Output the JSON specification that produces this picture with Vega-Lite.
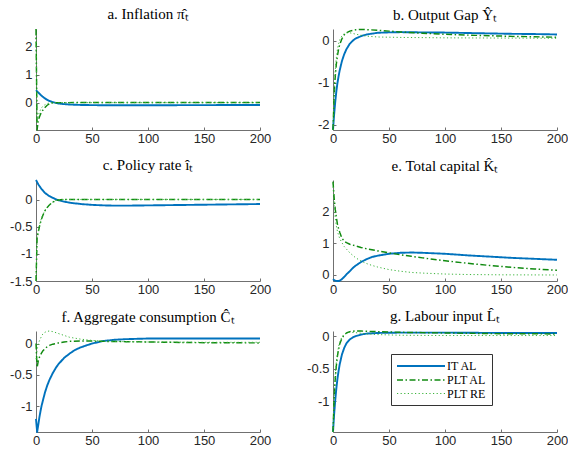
{
  "$schema": "https://vega.github.io/schema/vega-lite/v6.json",
  "padding": {"top": 7, "left": 0, "right": 0, "bottom": 0},
  "background": "white",
  "config": {
    "view": {"stroke": null},
    "axis": {"grid": false, "domainColor": "#707070", "tickColor": "#707070", "tickSize": -3, "labelFont": "Liberation Sans", "labelFontSize": 13, "labelColor": "#262626", "title": null, "labelFlush": false},
    "axisX": {"labelPadding": 5, "minExtent": 18, "maxExtent": 18},
    "axisY": {"labelPadding": 7, "minExtent": 36, "maxExtent": 36, "labelExpr": "'' + datum.value"},
    "title": {"font": "Liberation Serif", "fontSize": 15, "fontWeight": "normal", "offset": 6, "anchor": "middle", "color": "black"},
    "line": {"clip": true, "strokeJoin": "round"}
  },
  "datasets": {
    "a": [
      {"s": "IT AL", "t": 0, "v": 0.45}, {"s": "IT AL", "t": 1, "v": 0.41}, {"s": "IT AL", "t": 2, "v": 0.37}, {"s": "IT AL", "t": 3, "v": 0.33}, {"s": "IT AL", "t": 4, "v": 0.29}, {"s": "IT AL", "t": 5, "v": 0.25}, {"s": "IT AL", "t": 6, "v": 0.22}, {"s": "IT AL", "t": 8, "v": 0.16}, {"s": "IT AL", "t": 10, "v": 0.11}, {"s": "IT AL", "t": 12, "v": 0.07}, {"s": "IT AL", "t": 15, "v": 0.03}, {"s": "IT AL", "t": 18, "v": 0.0}, {"s": "IT AL", "t": 20, "v": -0.02}, {"s": "IT AL", "t": 25, "v": -0.04}, {"s": "IT AL", "t": 30, "v": -0.055}, {"s": "IT AL", "t": 40, "v": -0.07}, {"s": "IT AL", "t": 60, "v": -0.08}, {"s": "IT AL", "t": 100, "v": -0.08}, {"s": "IT AL", "t": 150, "v": -0.075}, {"s": "IT AL", "t": 200, "v": -0.07},
      {"s": "PLT AL", "t": 0, "v": 2.6}, {"s": "PLT AL", "t": 1, "v": -0.95}, {"s": "PLT AL", "t": 2, "v": -0.6}, {"s": "PLT AL", "t": 3, "v": -0.5}, {"s": "PLT AL", "t": 4, "v": -0.4}, {"s": "PLT AL", "t": 5, "v": -0.32}, {"s": "PLT AL", "t": 6, "v": -0.26}, {"s": "PLT AL", "t": 8, "v": -0.16}, {"s": "PLT AL", "t": 10, "v": -0.08}, {"s": "PLT AL", "t": 12, "v": -0.03}, {"s": "PLT AL", "t": 14, "v": 0.0}, {"s": "PLT AL", "t": 20, "v": 0.012}, {"s": "PLT AL", "t": 50, "v": 0.015}, {"s": "PLT AL", "t": 100, "v": 0.015}, {"s": "PLT AL", "t": 200, "v": 0.015},
      {"s": "PLT RE", "t": 0, "v": 2.4}, {"s": "PLT RE", "t": 1, "v": -0.7}, {"s": "PLT RE", "t": 2, "v": -0.45}, {"s": "PLT RE", "t": 3, "v": -0.33}, {"s": "PLT RE", "t": 4, "v": -0.24}, {"s": "PLT RE", "t": 5, "v": -0.17}, {"s": "PLT RE", "t": 6, "v": -0.12}, {"s": "PLT RE", "t": 8, "v": -0.06}, {"s": "PLT RE", "t": 10, "v": -0.02}, {"s": "PLT RE", "t": 12, "v": 0.0}, {"s": "PLT RE", "t": 20, "v": 0.01}, {"s": "PLT RE", "t": 100, "v": 0.01}, {"s": "PLT RE", "t": 200, "v": 0.01}
    ],
    "b": [
      {"s": "IT AL", "t": 0, "v": -2.12}, {"s": "IT AL", "t": 1, "v": -1.75}, {"s": "IT AL", "t": 2, "v": -1.45}, {"s": "IT AL", "t": 3, "v": -1.2}, {"s": "IT AL", "t": 4, "v": -1.0}, {"s": "IT AL", "t": 5, "v": -0.84}, {"s": "IT AL", "t": 6, "v": -0.7}, {"s": "IT AL", "t": 8, "v": -0.48}, {"s": "IT AL", "t": 10, "v": -0.32}, {"s": "IT AL", "t": 12, "v": -0.2}, {"s": "IT AL", "t": 15, "v": -0.07}, {"s": "IT AL", "t": 18, "v": 0.01}, {"s": "IT AL", "t": 20, "v": 0.05}, {"s": "IT AL", "t": 25, "v": 0.11}, {"s": "IT AL", "t": 30, "v": 0.15}, {"s": "IT AL", "t": 35, "v": 0.17}, {"s": "IT AL", "t": 40, "v": 0.19}, {"s": "IT AL", "t": 50, "v": 0.2}, {"s": "IT AL", "t": 60, "v": 0.205}, {"s": "IT AL", "t": 80, "v": 0.2}, {"s": "IT AL", "t": 100, "v": 0.195}, {"s": "IT AL", "t": 120, "v": 0.185}, {"s": "IT AL", "t": 140, "v": 0.175}, {"s": "IT AL", "t": 160, "v": 0.165}, {"s": "IT AL", "t": 180, "v": 0.16}, {"s": "IT AL", "t": 200, "v": 0.15},
      {"s": "PLT AL", "t": 0, "v": -2.12}, {"s": "PLT AL", "t": 1, "v": -1.3}, {"s": "PLT AL", "t": 2, "v": -0.85}, {"s": "PLT AL", "t": 3, "v": -0.55}, {"s": "PLT AL", "t": 4, "v": -0.35}, {"s": "PLT AL", "t": 5, "v": -0.2}, {"s": "PLT AL", "t": 6, "v": -0.09}, {"s": "PLT AL", "t": 8, "v": 0.05}, {"s": "PLT AL", "t": 10, "v": 0.14}, {"s": "PLT AL", "t": 12, "v": 0.19}, {"s": "PLT AL", "t": 15, "v": 0.23}, {"s": "PLT AL", "t": 20, "v": 0.26}, {"s": "PLT AL", "t": 25, "v": 0.27}, {"s": "PLT AL", "t": 30, "v": 0.265}, {"s": "PLT AL", "t": 40, "v": 0.25}, {"s": "PLT AL", "t": 50, "v": 0.23}, {"s": "PLT AL", "t": 60, "v": 0.21}, {"s": "PLT AL", "t": 80, "v": 0.18}, {"s": "PLT AL", "t": 100, "v": 0.155}, {"s": "PLT AL", "t": 120, "v": 0.135}, {"s": "PLT AL", "t": 140, "v": 0.12}, {"s": "PLT AL", "t": 160, "v": 0.105}, {"s": "PLT AL", "t": 180, "v": 0.095}, {"s": "PLT AL", "t": 200, "v": 0.085},
      {"s": "PLT RE", "t": 0, "v": -2.12}, {"s": "PLT RE", "t": 1, "v": -1.2}, {"s": "PLT RE", "t": 2, "v": -0.7}, {"s": "PLT RE", "t": 3, "v": -0.4}, {"s": "PLT RE", "t": 4, "v": -0.2}, {"s": "PLT RE", "t": 5, "v": -0.07}, {"s": "PLT RE", "t": 6, "v": 0.02}, {"s": "PLT RE", "t": 8, "v": 0.12}, {"s": "PLT RE", "t": 10, "v": 0.17}, {"s": "PLT RE", "t": 12, "v": 0.19}, {"s": "PLT RE", "t": 15, "v": 0.19}, {"s": "PLT RE", "t": 20, "v": 0.16}, {"s": "PLT RE", "t": 25, "v": 0.13}, {"s": "PLT RE", "t": 30, "v": 0.11}, {"s": "PLT RE", "t": 40, "v": 0.09}, {"s": "PLT RE", "t": 60, "v": 0.08}, {"s": "PLT RE", "t": 100, "v": 0.07}, {"s": "PLT RE", "t": 150, "v": 0.065}, {"s": "PLT RE", "t": 200, "v": 0.06}
    ],
    "c": [
      {"s": "IT AL", "t": 0, "v": 0.37}, {"s": "IT AL", "t": 1, "v": 0.33}, {"s": "IT AL", "t": 2, "v": 0.29}, {"s": "IT AL", "t": 3, "v": 0.26}, {"s": "IT AL", "t": 4, "v": 0.23}, {"s": "IT AL", "t": 5, "v": 0.2}, {"s": "IT AL", "t": 6, "v": 0.18}, {"s": "IT AL", "t": 8, "v": 0.13}, {"s": "IT AL", "t": 10, "v": 0.1}, {"s": "IT AL", "t": 12, "v": 0.07}, {"s": "IT AL", "t": 15, "v": 0.04}, {"s": "IT AL", "t": 18, "v": 0.01}, {"s": "IT AL", "t": 20, "v": -0.005}, {"s": "IT AL", "t": 25, "v": -0.03}, {"s": "IT AL", "t": 30, "v": -0.05}, {"s": "IT AL", "t": 40, "v": -0.075}, {"s": "IT AL", "t": 50, "v": -0.09}, {"s": "IT AL", "t": 60, "v": -0.1}, {"s": "IT AL", "t": 70, "v": -0.105}, {"s": "IT AL", "t": 80, "v": -0.105}, {"s": "IT AL", "t": 100, "v": -0.1}, {"s": "IT AL", "t": 120, "v": -0.095}, {"s": "IT AL", "t": 140, "v": -0.09}, {"s": "IT AL", "t": 160, "v": -0.085}, {"s": "IT AL", "t": 180, "v": -0.08}, {"s": "IT AL", "t": 200, "v": -0.075},
      {"s": "PLT AL", "t": 0, "v": -1.5}, {"s": "PLT AL", "t": 1, "v": -0.7}, {"s": "PLT AL", "t": 2, "v": -0.6}, {"s": "PLT AL", "t": 3, "v": -0.5}, {"s": "PLT AL", "t": 4, "v": -0.42}, {"s": "PLT AL", "t": 5, "v": -0.35}, {"s": "PLT AL", "t": 6, "v": -0.29}, {"s": "PLT AL", "t": 8, "v": -0.2}, {"s": "PLT AL", "t": 10, "v": -0.14}, {"s": "PLT AL", "t": 12, "v": -0.09}, {"s": "PLT AL", "t": 15, "v": -0.04}, {"s": "PLT AL", "t": 18, "v": -0.01}, {"s": "PLT AL", "t": 20, "v": 0.0}, {"s": "PLT AL", "t": 25, "v": 0.01}, {"s": "PLT AL", "t": 100, "v": 0.01}, {"s": "PLT AL", "t": 200, "v": 0.01},
      {"s": "PLT RE", "t": 0, "v": -1.5}, {"s": "PLT RE", "t": 1, "v": -0.68}, {"s": "PLT RE", "t": 2, "v": -0.58}, {"s": "PLT RE", "t": 3, "v": -0.48}, {"s": "PLT RE", "t": 4, "v": -0.4}, {"s": "PLT RE", "t": 5, "v": -0.33}, {"s": "PLT RE", "t": 6, "v": -0.28}, {"s": "PLT RE", "t": 8, "v": -0.19}, {"s": "PLT RE", "t": 10, "v": -0.13}, {"s": "PLT RE", "t": 12, "v": -0.085}, {"s": "PLT RE", "t": 15, "v": -0.035}, {"s": "PLT RE", "t": 18, "v": -0.005}, {"s": "PLT RE", "t": 20, "v": 0.005}, {"s": "PLT RE", "t": 25, "v": 0.01}, {"s": "PLT RE", "t": 100, "v": 0.01}, {"s": "PLT RE", "t": 200, "v": 0.01}
    ],
    "e": [
      {"s": "IT AL", "t": 0, "v": -0.13}, {"s": "IT AL", "t": 1, "v": -0.16}, {"s": "IT AL", "t": 2, "v": -0.18}, {"s": "IT AL", "t": 4, "v": -0.19}, {"s": "IT AL", "t": 5, "v": -0.19}, {"s": "IT AL", "t": 6, "v": -0.18}, {"s": "IT AL", "t": 8, "v": -0.13}, {"s": "IT AL", "t": 10, "v": -0.06}, {"s": "IT AL", "t": 12, "v": 0.02}, {"s": "IT AL", "t": 15, "v": 0.12}, {"s": "IT AL", "t": 18, "v": 0.23}, {"s": "IT AL", "t": 20, "v": 0.29}, {"s": "IT AL", "t": 25, "v": 0.41}, {"s": "IT AL", "t": 30, "v": 0.5}, {"s": "IT AL", "t": 35, "v": 0.57}, {"s": "IT AL", "t": 40, "v": 0.61}, {"s": "IT AL", "t": 50, "v": 0.67}, {"s": "IT AL", "t": 60, "v": 0.7}, {"s": "IT AL", "t": 70, "v": 0.71}, {"s": "IT AL", "t": 80, "v": 0.7}, {"s": "IT AL", "t": 100, "v": 0.67}, {"s": "IT AL", "t": 120, "v": 0.62}, {"s": "IT AL", "t": 140, "v": 0.58}, {"s": "IT AL", "t": 160, "v": 0.54}, {"s": "IT AL", "t": 180, "v": 0.51}, {"s": "IT AL", "t": 200, "v": 0.48},
      {"s": "PLT AL", "t": 0, "v": 2.95}, {"s": "PLT AL", "t": 1, "v": 2.45}, {"s": "PLT AL", "t": 2, "v": 2.08}, {"s": "PLT AL", "t": 3, "v": 1.82}, {"s": "PLT AL", "t": 4, "v": 1.6}, {"s": "PLT AL", "t": 5, "v": 1.46}, {"s": "PLT AL", "t": 6, "v": 1.35}, {"s": "PLT AL", "t": 8, "v": 1.16}, {"s": "PLT AL", "t": 10, "v": 1.07}, {"s": "PLT AL", "t": 12, "v": 1.02}, {"s": "PLT AL", "t": 15, "v": 0.97}, {"s": "PLT AL", "t": 20, "v": 0.92}, {"s": "PLT AL", "t": 25, "v": 0.87}, {"s": "PLT AL", "t": 30, "v": 0.83}, {"s": "PLT AL", "t": 40, "v": 0.76}, {"s": "PLT AL", "t": 50, "v": 0.7}, {"s": "PLT AL", "t": 60, "v": 0.64}, {"s": "PLT AL", "t": 70, "v": 0.59}, {"s": "PLT AL", "t": 80, "v": 0.54}, {"s": "PLT AL", "t": 100, "v": 0.45}, {"s": "PLT AL", "t": 120, "v": 0.37}, {"s": "PLT AL", "t": 140, "v": 0.3}, {"s": "PLT AL", "t": 160, "v": 0.24}, {"s": "PLT AL", "t": 180, "v": 0.19}, {"s": "PLT AL", "t": 200, "v": 0.15},
      {"s": "PLT RE", "t": 0, "v": 2.9}, {"s": "PLT RE", "t": 1, "v": 2.2}, {"s": "PLT RE", "t": 2, "v": 1.8}, {"s": "PLT RE", "t": 3, "v": 1.55}, {"s": "PLT RE", "t": 4, "v": 1.37}, {"s": "PLT RE", "t": 6, "v": 1.15}, {"s": "PLT RE", "t": 8, "v": 1.02}, {"s": "PLT RE", "t": 10, "v": 0.9}, {"s": "PLT RE", "t": 12, "v": 0.82}, {"s": "PLT RE", "t": 15, "v": 0.7}, {"s": "PLT RE", "t": 20, "v": 0.55}, {"s": "PLT RE", "t": 25, "v": 0.44}, {"s": "PLT RE", "t": 30, "v": 0.36}, {"s": "PLT RE", "t": 35, "v": 0.3}, {"s": "PLT RE", "t": 40, "v": 0.25}, {"s": "PLT RE", "t": 50, "v": 0.17}, {"s": "PLT RE", "t": 60, "v": 0.12}, {"s": "PLT RE", "t": 70, "v": 0.08}, {"s": "PLT RE", "t": 80, "v": 0.06}, {"s": "PLT RE", "t": 100, "v": 0.03}, {"s": "PLT RE", "t": 120, "v": 0.015}, {"s": "PLT RE", "t": 150, "v": 0.005}, {"s": "PLT RE", "t": 200, "v": 0.0}
    ],
    "f": [
      {"s": "IT AL", "t": 0, "v": -1.2}, {"s": "IT AL", "t": 1, "v": -1.41}, {"s": "IT AL", "t": 2, "v": -1.3}, {"s": "IT AL", "t": 3, "v": -1.18}, {"s": "IT AL", "t": 4, "v": -1.08}, {"s": "IT AL", "t": 5, "v": -0.99}, {"s": "IT AL", "t": 6, "v": -0.92}, {"s": "IT AL", "t": 8, "v": -0.78}, {"s": "IT AL", "t": 10, "v": -0.67}, {"s": "IT AL", "t": 12, "v": -0.58}, {"s": "IT AL", "t": 15, "v": -0.47}, {"s": "IT AL", "t": 18, "v": -0.38}, {"s": "IT AL", "t": 20, "v": -0.33}, {"s": "IT AL", "t": 25, "v": -0.23}, {"s": "IT AL", "t": 30, "v": -0.16}, {"s": "IT AL", "t": 35, "v": -0.1}, {"s": "IT AL", "t": 40, "v": -0.06}, {"s": "IT AL", "t": 50, "v": 0.0}, {"s": "IT AL", "t": 60, "v": 0.04}, {"s": "IT AL", "t": 70, "v": 0.06}, {"s": "IT AL", "t": 80, "v": 0.07}, {"s": "IT AL", "t": 100, "v": 0.08}, {"s": "IT AL", "t": 150, "v": 0.08}, {"s": "IT AL", "t": 200, "v": 0.08},
      {"s": "PLT AL", "t": 0, "v": 0.0}, {"s": "PLT AL", "t": 1, "v": -0.38}, {"s": "PLT AL", "t": 2, "v": -0.28}, {"s": "PLT AL", "t": 3, "v": -0.22}, {"s": "PLT AL", "t": 4, "v": -0.18}, {"s": "PLT AL", "t": 5, "v": -0.15}, {"s": "PLT AL", "t": 6, "v": -0.12}, {"s": "PLT AL", "t": 8, "v": -0.08}, {"s": "PLT AL", "t": 10, "v": -0.05}, {"s": "PLT AL", "t": 12, "v": -0.03}, {"s": "PLT AL", "t": 15, "v": -0.01}, {"s": "PLT AL", "t": 20, "v": 0.01}, {"s": "PLT AL", "t": 25, "v": 0.025}, {"s": "PLT AL", "t": 30, "v": 0.035}, {"s": "PLT AL", "t": 40, "v": 0.04}, {"s": "PLT AL", "t": 50, "v": 0.04}, {"s": "PLT AL", "t": 60, "v": 0.035}, {"s": "PLT AL", "t": 80, "v": 0.03}, {"s": "PLT AL", "t": 100, "v": 0.025}, {"s": "PLT AL", "t": 140, "v": 0.015}, {"s": "PLT AL", "t": 200, "v": 0.01},
      {"s": "PLT RE", "t": 0, "v": -0.25}, {"s": "PLT RE", "t": 1, "v": -0.1}, {"s": "PLT RE", "t": 2, "v": -0.01}, {"s": "PLT RE", "t": 3, "v": 0.04}, {"s": "PLT RE", "t": 4, "v": 0.08}, {"s": "PLT RE", "t": 5, "v": 0.12}, {"s": "PLT RE", "t": 6, "v": 0.15}, {"s": "PLT RE", "t": 8, "v": 0.18}, {"s": "PLT RE", "t": 10, "v": 0.195}, {"s": "PLT RE", "t": 12, "v": 0.2}, {"s": "PLT RE", "t": 15, "v": 0.19}, {"s": "PLT RE", "t": 20, "v": 0.16}, {"s": "PLT RE", "t": 25, "v": 0.13}, {"s": "PLT RE", "t": 30, "v": 0.1}, {"s": "PLT RE", "t": 35, "v": 0.085}, {"s": "PLT RE", "t": 40, "v": 0.07}, {"s": "PLT RE", "t": 50, "v": 0.05}, {"s": "PLT RE", "t": 60, "v": 0.04}, {"s": "PLT RE", "t": 80, "v": 0.03}, {"s": "PLT RE", "t": 100, "v": 0.025}, {"s": "PLT RE", "t": 150, "v": 0.02}, {"s": "PLT RE", "t": 200, "v": 0.02}
    ],
    "g": [
      {"s": "IT AL", "t": 0, "v": -1.47}, {"s": "IT AL", "t": 1, "v": -1.2}, {"s": "IT AL", "t": 2, "v": -0.98}, {"s": "IT AL", "t": 3, "v": -0.8}, {"s": "IT AL", "t": 4, "v": -0.65}, {"s": "IT AL", "t": 5, "v": -0.53}, {"s": "IT AL", "t": 6, "v": -0.43}, {"s": "IT AL", "t": 8, "v": -0.28}, {"s": "IT AL", "t": 10, "v": -0.18}, {"s": "IT AL", "t": 12, "v": -0.11}, {"s": "IT AL", "t": 15, "v": -0.05}, {"s": "IT AL", "t": 18, "v": -0.015}, {"s": "IT AL", "t": 20, "v": 0.0}, {"s": "IT AL", "t": 25, "v": 0.025}, {"s": "IT AL", "t": 30, "v": 0.04}, {"s": "IT AL", "t": 40, "v": 0.05}, {"s": "IT AL", "t": 60, "v": 0.055}, {"s": "IT AL", "t": 100, "v": 0.055}, {"s": "IT AL", "t": 150, "v": 0.05}, {"s": "IT AL", "t": 200, "v": 0.05},
      {"s": "PLT AL", "t": 0, "v": -1.47}, {"s": "PLT AL", "t": 1, "v": -0.95}, {"s": "PLT AL", "t": 2, "v": -0.65}, {"s": "PLT AL", "t": 3, "v": -0.45}, {"s": "PLT AL", "t": 4, "v": -0.3}, {"s": "PLT AL", "t": 5, "v": -0.2}, {"s": "PLT AL", "t": 6, "v": -0.12}, {"s": "PLT AL", "t": 8, "v": -0.03}, {"s": "PLT AL", "t": 10, "v": 0.02}, {"s": "PLT AL", "t": 12, "v": 0.05}, {"s": "PLT AL", "t": 15, "v": 0.07}, {"s": "PLT AL", "t": 20, "v": 0.08}, {"s": "PLT AL", "t": 25, "v": 0.08}, {"s": "PLT AL", "t": 30, "v": 0.075}, {"s": "PLT AL", "t": 40, "v": 0.07}, {"s": "PLT AL", "t": 60, "v": 0.06}, {"s": "PLT AL", "t": 80, "v": 0.055}, {"s": "PLT AL", "t": 100, "v": 0.05}, {"s": "PLT AL", "t": 140, "v": 0.04}, {"s": "PLT AL", "t": 200, "v": 0.035},
      {"s": "PLT RE", "t": 0, "v": -1.47}, {"s": "PLT RE", "t": 1, "v": -0.9}, {"s": "PLT RE", "t": 2, "v": -0.6}, {"s": "PLT RE", "t": 3, "v": -0.4}, {"s": "PLT RE", "t": 4, "v": -0.26}, {"s": "PLT RE", "t": 5, "v": -0.16}, {"s": "PLT RE", "t": 6, "v": -0.09}, {"s": "PLT RE", "t": 8, "v": -0.01}, {"s": "PLT RE", "t": 10, "v": 0.03}, {"s": "PLT RE", "t": 12, "v": 0.05}, {"s": "PLT RE", "t": 15, "v": 0.06}, {"s": "PLT RE", "t": 20, "v": 0.055}, {"s": "PLT RE", "t": 25, "v": 0.045}, {"s": "PLT RE", "t": 30, "v": 0.035}, {"s": "PLT RE", "t": 40, "v": 0.025}, {"s": "PLT RE", "t": 60, "v": 0.015}, {"s": "PLT RE", "t": 100, "v": 0.01}, {"s": "PLT RE", "t": 200, "v": 0.01}
    ]
  },
  "columns": 2,
  "spacing": {"row": 10, "column": 26},
  "concat": [
    {
      "title": {"text": "a. Inflation π̂ₜ", "font": "Liberation Serif", "fontSize": 15, "fontWeight": "normal"},
      "width": 224, "height": 101,
      "data": {"name": "a"},
      "mark": "line",
      "encoding": {
        "x": {"field": "t", "type": "quantitative", "scale": {"domain": [0, 200], "nice": false}, "axis": {"values": [0, 50, 100, 150, 200]}},
        "y": {"field": "v", "type": "quantitative", "scale": {"domain": [-0.95, 2.6], "nice": false, "zero": false}, "axis": {"values": [0, 1, 2]}},
        "color": {"field": "s", "type": "ordinal", "scale": {"domain": ["IT AL", "PLT AL", "PLT RE"], "range": ["#0072BD", "#108a10", "#3cb43c"]}, "legend": {"orient": "none", "legendX": 355, "legendY": 325, "title": null, "labelFont": "Liberation Serif", "labelFontSize": 12, "labelColor": "black", "symbolType": "M-1,0H7", "symbolSize": 144, "labelOffset": 37, "rowPadding": 1, "padding": 5, "strokeColor": "#333333", "fillColor": "white", "cornerRadius": 0}},
        "strokeDash": {"field": "s", "type": "ordinal", "scale": {"domain": ["IT AL", "PLT AL", "PLT RE"], "range": [[1, 0], [6, 2.5, 1.5, 2.5], [1.2, 2.4]]}},
        "strokeWidth": {"field": "s", "type": "ordinal", "scale": {"domain": ["IT AL", "PLT AL", "PLT RE"], "range": [1.9, 1, 1]}}
      }
    },
    {
      "title": {"text": "b. Output Gap Ŷₜ", "font": "Liberation Serif", "fontSize": 15, "fontWeight": "normal"},
      "width": 224, "height": 101,
      "data": {"name": "b"},
      "mark": "line",
      "encoding": {
        "x": {"field": "t", "type": "quantitative", "scale": {"domain": [0, 200], "nice": false}, "axis": {"values": [0, 50, 100, 150, 200]}},
        "y": {"field": "v", "type": "quantitative", "scale": {"domain": [-2.12, 0.28], "nice": false, "zero": false}, "axis": {"values": [-2, -1, 0]}},
        "color": {"field": "s", "type": "ordinal", "scale": {"domain": ["IT AL", "PLT AL", "PLT RE"], "range": ["#0072BD", "#108a10", "#3cb43c"]}},
        "strokeDash": {"field": "s", "type": "ordinal", "scale": {"domain": ["IT AL", "PLT AL", "PLT RE"], "range": [[1, 0], [6, 2.5, 1.5, 2.5], [1.2, 2.4]]}},
        "strokeWidth": {"field": "s", "type": "ordinal", "scale": {"domain": ["IT AL", "PLT AL", "PLT RE"], "range": [1.9, 1, 1]}}
      }
    },
    {
      "title": {"text": "c. Policy rate îₜ", "font": "Liberation Serif", "fontSize": 15, "fontWeight": "normal"},
      "width": 224, "height": 101,
      "data": {"name": "c"},
      "mark": "line",
      "encoding": {
        "x": {"field": "t", "type": "quantitative", "scale": {"domain": [0, 200], "nice": false}, "axis": {"values": [0, 50, 100, 150, 200]}},
        "y": {"field": "v", "type": "quantitative", "scale": {"domain": [-1.5, 0.37], "nice": false, "zero": false}, "axis": {"values": [-1.5, -1, -0.5, 0]}},
        "color": {"field": "s", "type": "ordinal", "scale": {"domain": ["IT AL", "PLT AL", "PLT RE"], "range": ["#0072BD", "#108a10", "#3cb43c"]}},
        "strokeDash": {"field": "s", "type": "ordinal", "scale": {"domain": ["IT AL", "PLT AL", "PLT RE"], "range": [[1, 0], [6, 2.5, 1.5, 2.5], [1.2, 2.4]]}},
        "strokeWidth": {"field": "s", "type": "ordinal", "scale": {"domain": ["IT AL", "PLT AL", "PLT RE"], "range": [1.9, 1, 1]}}
      }
    },
    {
      "title": {"text": "e. Total capital K̂ₜ", "font": "Liberation Serif", "fontSize": 15, "fontWeight": "normal"},
      "width": 224, "height": 101,
      "data": {"name": "e"},
      "mark": "line",
      "encoding": {
        "x": {"field": "t", "type": "quantitative", "scale": {"domain": [0, 200], "nice": false}, "axis": {"values": [0, 50, 100, 150, 200]}},
        "y": {"field": "v", "type": "quantitative", "scale": {"domain": [-0.19, 3.0], "nice": false, "zero": false}, "axis": {"values": [0, 1, 2]}},
        "color": {"field": "s", "type": "ordinal", "scale": {"domain": ["IT AL", "PLT AL", "PLT RE"], "range": ["#0072BD", "#108a10", "#3cb43c"]}},
        "strokeDash": {"field": "s", "type": "ordinal", "scale": {"domain": ["IT AL", "PLT AL", "PLT RE"], "range": [[1, 0], [6, 2.5, 1.5, 2.5], [1.2, 2.4]]}},
        "strokeWidth": {"field": "s", "type": "ordinal", "scale": {"domain": ["IT AL", "PLT AL", "PLT RE"], "range": [1.9, 1, 1]}}
      }
    },
    {
      "title": {"text": "f. Aggregate consumption Ĉₜ", "font": "Liberation Serif", "fontSize": 15, "fontWeight": "normal"},
      "width": 224, "height": 101,
      "data": {"name": "f"},
      "mark": "line",
      "encoding": {
        "x": {"field": "t", "type": "quantitative", "scale": {"domain": [0, 200], "nice": false}, "axis": {"values": [0, 50, 100, 150, 200]}},
        "y": {"field": "v", "type": "quantitative", "scale": {"domain": [-1.41, 0.2], "nice": false, "zero": false}, "axis": {"values": [-1, -0.5, 0]}},
        "color": {"field": "s", "type": "ordinal", "scale": {"domain": ["IT AL", "PLT AL", "PLT RE"], "range": ["#0072BD", "#108a10", "#3cb43c"]}},
        "strokeDash": {"field": "s", "type": "ordinal", "scale": {"domain": ["IT AL", "PLT AL", "PLT RE"], "range": [[1, 0], [6, 2.5, 1.5, 2.5], [1.2, 2.4]]}},
        "strokeWidth": {"field": "s", "type": "ordinal", "scale": {"domain": ["IT AL", "PLT AL", "PLT RE"], "range": [1.9, 1, 1]}}
      }
    },
    {
      "title": {"text": "g. Labour input L̂ₜ", "font": "Liberation Serif", "fontSize": 15, "fontWeight": "normal"},
      "width": 224, "height": 101,
      "data": {"name": "g"},
      "mark": "line",
      "encoding": {
        "x": {"field": "t", "type": "quantitative", "scale": {"domain": [0, 200], "nice": false}, "axis": {"values": [0, 50, 100, 150, 200]}},
        "y": {"field": "v", "type": "quantitative", "scale": {"domain": [-1.47, 0.08], "nice": false, "zero": false}, "axis": {"values": [-1, -0.5, 0]}},
        "color": {"field": "s", "type": "ordinal", "scale": {"domain": ["IT AL", "PLT AL", "PLT RE"], "range": ["#0072BD", "#108a10", "#3cb43c"]}},
        "strokeDash": {"field": "s", "type": "ordinal", "scale": {"domain": ["IT AL", "PLT AL", "PLT RE"], "range": [[1, 0], [6, 2.5, 1.5, 2.5], [1.2, 2.4]]}},
        "strokeWidth": {"field": "s", "type": "ordinal", "scale": {"domain": ["IT AL", "PLT AL", "PLT RE"], "range": [1.9, 1, 1]}}
      }
    }
  ]
}
